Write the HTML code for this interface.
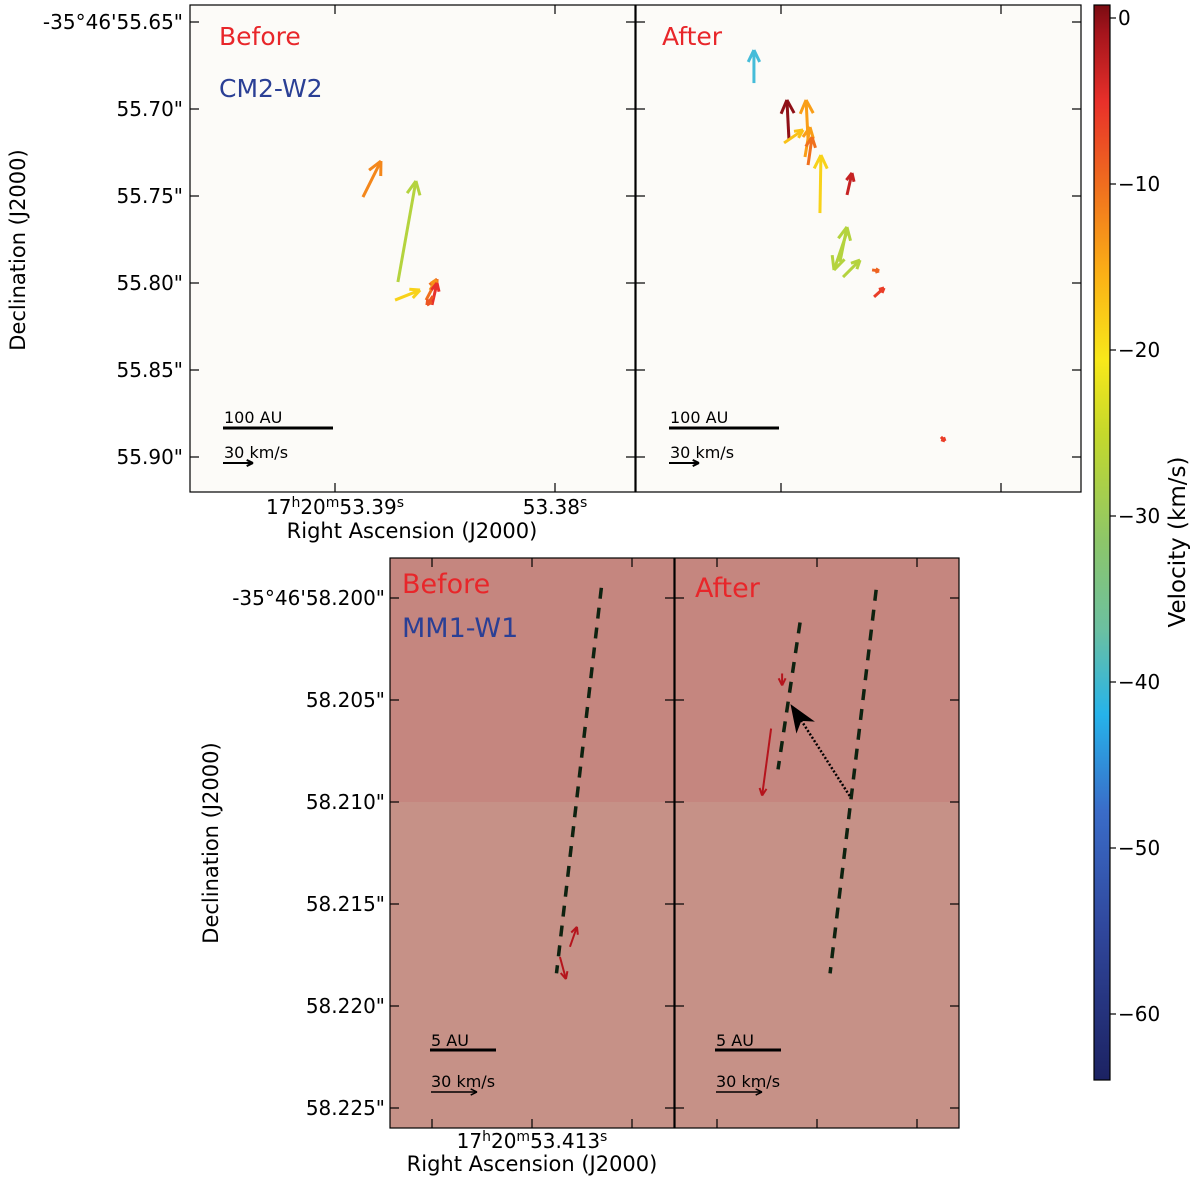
<!DOCTYPE html>
<html><head><meta charset="utf-8"><style>
body{margin:0;background:#fff;}
svg{display:block;font-family:"DejaVu Sans","Liberation Sans",sans-serif;}
</style></head><body>
<svg id="fig" width="1200" height="1184" viewBox="0 0 1200 1184">
<defs>
<linearGradient id="cb" x1="0" y1="1" x2="0" y2="0">
<stop offset="0" stop-color="#1c2262"/><stop offset="0.14" stop-color="#30479c"/><stop offset="0.25" stop-color="#3a6cc8"/>
<stop offset="0.34" stop-color="#26b3ea"/><stop offset="0.42" stop-color="#6cc0a0"/><stop offset="0.5" stop-color="#8cc66a"/>
<stop offset="0.6" stop-color="#c4d82c"/><stop offset="0.67" stop-color="#f8e81a"/><stop offset="0.75" stop-color="#fbb016"/>
<stop offset="0.83" stop-color="#f0701e"/><stop offset="0.91" stop-color="#e8302a"/><stop offset="0.975" stop-color="#a3141c"/><stop offset="1" stop-color="#7a0c12"/>
</linearGradient>
</defs>
<g id="layer"></g>
</svg>
<script>
// ---- data ----
const topDecTicks=[55.65,55.70,55.75,55.80,55.85,55.90];
const topDecLabels=['-35°46\'55.65"','55.70"','55.75"','55.80"','55.85"','55.90"'];
const topRaTicks=[53.39,53.38];
const botDecTicks=[58.200,58.205,58.210,58.215,58.220,58.225];
const botDecLabels=['-35°46\'58.200"','58.205"','58.210"','58.215"','58.220"','58.225"'];
const cbTicks=[0,-10,-20,-30,-40,-50,-60];
// arrows: ra (s), dec (arcsec), vx, vy (km/s), velocity
const beforeRa=[53.38873,53.38714,53.38727,53.38586,53.38568,53.38559,53.38555];
const beforeDec=[55.7506,55.7994,55.8098,55.8098,55.8040,55.8126,55.8075];
const beforeVx=[18,18,25,11,6,5,-6];
const beforeVy=[36,101,10,21,10,22,-9];
const beforeVel=[-12,-27,-20,-10,-13,-5,-8];
const afterRa=[53.39123,53.38964,53.38877,53.38986,53.38891,53.38877,53.38823,53.38700,53.38718,53.38586,53.38732,53.38700,53.38577,53.38273];
const afterDec=[55.6851,55.7172,55.7178,55.7195,55.7276,55.7322,55.7598,55.7494,55.7966,55.7925,55.7879,55.7707,55.8080,55.8885];
const afterVx=[0,-2,-2,19,5,4,1,5,17,7,7,-13,10,4];
const afterVy=[33,39,40,13,30,28,58,22,17,-1,35,-38,9,-4];
const afterVel=[-40,0,-14,-18,-14,-10,-20,-3,-27,-9,-27,-27,-6,-6];
// bottom: ra offset (mas), dec (arcsec)
const bDashLeftRa=[3.4,1.2];const bDashLeftDec=[58.1995,58.2184];
const bDashRightRa=[2.9,0.64];const bDashRightDec=[58.1996,58.2184];
const bDashShortRa=[-0.83,-1.91];const bDashShortDec=[58.2012,58.2084];
const bArrowLeftRa=[1.86,1.37];const bArrowLeftDec=[58.2171,58.2176];
const bArrowLeftVx=[7,6];const bArrowLeftVy=[20,-22];
const bArrowRightRa=[-1.71,-2.25];const bArrowRightDec=[58.2037,58.2064];
const bArrowRightVx=[0,-9];const bArrowRightVy=[-12,-67];
const bMoveRa=[1.6,-1.3];const bMoveDec=[58.2097,58.2052];

// ---- helpers ----
const NS='http://www.w3.org/2000/svg';
const L=document.getElementById('layer');
function mk(tag,attrs,parent){const e=document.createElementNS(NS,tag);for(const k in attrs)e.setAttribute(k,attrs[k]);(parent||L).appendChild(e);return e;}
const cbStops=[[-64,[28,34,98]],[-55,[48,71,156]],[-48,[58,108,200]],[-42,[38,179,234]],[-38,[100,196,200]],[-32,[140,198,106]],[-25,[196,216,44]],[-20,[248,210,26]],[-15,[251,170,22]],[-10,[240,112,30]],[-5,[232,48,42]],[-1,[163,20,28]],[1,[122,12,18]]];
function vcol(v){for(let i=0;i<cbStops.length-1;i++){const a=cbStops[i],b=cbStops[i+1];if(v>=a[0]&&v<=b[0]){const t=(v-a[0])/(b[0]-a[0]);const c=a[1].map((x,j)=>Math.round(x+(b[1][j]-x)*t));return `rgb(${c})`;}}return v<-64?'rgb(28,34,98)':'rgb(122,12,18)';}
function arrow(x1,y1,x2,y2,col,w,hl,name){
  const g=mk('g',{});
  
  
  mk('line',{x1:x1,y1:y1,x2:x2,y2:y2,stroke:col,'stroke-width':w,'stroke-linecap':'butt'},g);
  const a=Math.atan2(y2-y1,x2-x1);
  for(const s of [-1,1]){const b=a+Math.PI+s*0.45;mk('line',{x1:x2,y1:y2,x2:x2+hl*Math.cos(b),y2:y2+hl*Math.sin(b),stroke:col,'stroke-width':w},g);}
}
function text(x,y,s,attrs,name){const t=mk('text',Object.assign({x:x,y:y},attrs));t.textContent=s;return t;}

// ---- top panels ----
const topY=d=>22+(d-55.65)*1740;
const topXL=ra=>335+(53.39-ra)*22000;
const topXR=ra=>781+(53.39-ra)*22000;
const panels=[[190,'top-left-panel'],[636,'top-right-panel']];
for(const [px,nm] of panels){
  const r=mk('rect',{x:px,y:5,width:445,height:487,fill:'#fcfbf8',stroke:'#000','stroke-width':1.2});
  
  topDecTicks.forEach(d=>{const y=topY(d);mk('line',{x1:px,x2:px+9,y1:y,y2:y,stroke:'#000','stroke-width':1.2});mk('line',{x1:px+445,x2:px+436,y1:y,y2:y,stroke:'#000','stroke-width':1.2});});
  topRaTicks.forEach(ra=>{const x=(px===190?topXL:topXR)(ra);mk('line',{x1:x,x2:x,y1:492,y2:483,stroke:'#000','stroke-width':1.2});mk('line',{x1:x,x2:x,y1:5,y2:14,stroke:'#000','stroke-width':1.2});});
  mk('line',{x1:px+33,x2:px+143,y1:428,y2:428,stroke:'#000','stroke-width':3});
  text(px+34,423,'100 AU',{'font-size':16},'scale-bar-label');
  text(px+34,458,'30 km/s',{'font-size':16},'velocity-key-label');
  arrow(px+33,463,px+63,463,'#000',2,7,'velocity-key-arrow');
}
topDecLabels.forEach((s,i)=>text(183,topY(topDecTicks[i])+7,s,{'font-size':20,'text-anchor':'end'},'dec-tick-label'));
const tl=mk('text',{x:335,y:514,'font-size':20,'text-anchor':'middle'});tl.innerHTML='17<tspan dy="-7" font-size="14">h</tspan><tspan dy="7">20</tspan><tspan dy="-7" font-size="14">m</tspan><tspan dy="7">53.39</tspan><tspan dy="-7" font-size="14">s</tspan>';

const tl2=mk('text',{x:555,y:514,'font-size':20,'text-anchor':'middle'});tl2.innerHTML='53.38<tspan dy="-7" font-size="14">s</tspan>';

text(412,538,'Right Ascension (J2000)',{'font-size':21,'text-anchor':'middle'},'x-axis-title');
text(25,250,'Declination (J2000)',{'font-size':21,'text-anchor':'middle',transform:'rotate(-90 25 250)'},'y-axis-title');
text(219,45,'Before',{'font-size':25,fill:'#e8262a'},'before-label');
text(219,97,'CM2-W2',{'font-size':25,fill:'#2a3f95'},'source-label');
text(662,45,'After',{'font-size':25,fill:'#e8262a'},'after-label');
beforeRa.forEach((ra,i)=>{const x=topXL(ra),y=topY(beforeDec[i]);arrow(x,y,x+beforeVx[i],y-beforeVy[i],vcol(beforeVel[i]),3,Math.min(15,Math.max(6,Math.hypot(beforeVx[i],beforeVy[i])*0.4)),'maser-arrow');});
afterRa.forEach((ra,i)=>{const x=topXR(ra),y=topY(afterDec[i]);arrow(x,y,x+afterVx[i],y-afterVy[i],vcol(afterVel[i]),3,Math.min(15,Math.max(4,Math.hypot(afterVx[i],afterVy[i])*0.4)),'maser-arrow');});

// ---- colorbar ----
const cbY=v=>18-v*16.6;
const cbr=mk('rect',{x:1094,y:5,width:16,height:1075,fill:'url(#cb)',stroke:'#000','stroke-width':1.2});

cbTicks.forEach(v=>{const y=cbY(v);mk('line',{x1:1110,x2:1116,y1:y,y2:y,stroke:'#000','stroke-width':1.2});text(1118,y+7,v===0?'0':'\u2212'+(-v),{'font-size':20},'colorbar-tick-label');});
text(1185,542,'Velocity (km/s)',{'font-size':23,'text-anchor':'middle',transform:'rotate(-90 1185 542)'},'colorbar-title');

// ---- bottom panels ----
const botY=d=>598+(d-58.200)*20400;
const bxL=m=>532+m*20.4;
const bxR=m=>817+m*20.4;
[[390,'bottom-left-panel'],[675,'bottom-right-panel']].forEach(([px,nm])=>{
  const g=mk('g',{});
  mk('rect',{x:px,y:558,width:284,height:244,fill:'#c5867f'},g);
  mk('rect',{x:px,y:802,width:284,height:326,fill:'#c69187'},g);
  mk('rect',{x:px,y:558,width:284,height:570,fill:'none',stroke:'#000','stroke-width':1.2},g);
  botDecTicks.forEach(d=>{const y=botY(d);mk('line',{x1:px,x2:px+9,y1:y,y2:y,stroke:'#000','stroke-width':1.2});mk('line',{x1:px+284,x2:px+275,y1:y,y2:y,stroke:'#000','stroke-width':1.2});});
  [px+42,px+142,px+242].forEach(x=>{mk('line',{x1:x,x2:x,y1:1128,y2:1119,stroke:'#000','stroke-width':1.2});mk('line',{x1:x,x2:x,y1:558,y2:567,stroke:'#000','stroke-width':1.2});});
  mk('line',{x1:px+40,x2:px+106,y1:1050,y2:1050,stroke:'#000','stroke-width':3});
  text(px+41,1046,'5 AU',{'font-size':16},'scale-bar-label');
  text(px+41,1087,'30 km/s',{'font-size':16},'velocity-key-label');
  arrow(px+41,1092,px+87,1092,'#000',1.5,7,'velocity-key-arrow');
});
botDecLabels.forEach((s,i)=>text(385,botY(botDecTicks[i])+7,s,{'font-size':20,'text-anchor':'end'},'dec-tick-label'));
const tb=mk('text',{x:532,y:1148,'font-size':20,'text-anchor':'middle'});tb.innerHTML='17<tspan dy="-7" font-size="14">h</tspan><tspan dy="7">20</tspan><tspan dy="-7" font-size="14">m</tspan><tspan dy="7">53.413</tspan><tspan dy="-7" font-size="14">s</tspan>';

text(532,1171,'Right Ascension (J2000)',{'font-size':21,'text-anchor':'middle'},'x-axis-title');
text(218,843,'Declination (J2000)',{'font-size':21,'text-anchor':'middle',transform:'rotate(-90 218 843)'},'y-axis-title');
text(402,593,'Before',{'font-size':27,fill:'#e8262a'},'before-label');
text(402,637,'MM1-W1',{'font-size':27,fill:'#2a3f95'},'source-label');
text(695,597,'After',{'font-size':27,fill:'#e8262a'},'after-label');
function dash(xf,ra,dec,name){const l=mk('line',{x1:xf(ra[0]),y1:botY(dec[0]),x2:xf(ra[1]),y2:botY(dec[1]),stroke:'#0e2210','stroke-width':3.5,'stroke-dasharray':'11 9'});}
dash(bxL,bDashLeftRa,bDashLeftDec,'ring-line-before');
dash(bxR,bDashRightRa,bDashRightDec,'ring-line-after');
dash(bxR,bDashShortRa,bDashShortDec,'ring-line-shifted');
bArrowLeftRa.forEach((m,i)=>{const x=bxL(m),y=botY(bArrowLeftDec[i]);arrow(x,y,x+bArrowLeftVx[i],y-bArrowLeftVy[i],'#b5141c',2,8,'maser-arrow');});
bArrowRightRa.forEach((m,i)=>{const x=bxR(m),y=botY(bArrowRightDec[i]);arrow(x,y,x+bArrowRightVx[i],y-bArrowRightVy[i],'#b5141c',2,8,'maser-arrow');});
const mx1=bxR(bMoveRa[0]),my1=botY(bMoveDec[0]),mx2=bxR(bMoveRa[1]),my2=botY(bMoveDec[1]);
const ml=mk('line',{x1:mx1,y1:my1,x2:mx2+8,y2:my2+12,stroke:'#000','stroke-width':2.5,'stroke-dasharray':'2 2'});

const ang=Math.atan2(my2-my1,mx2-mx1);
const hx=mx2,hy=my2;
const p1=[hx-28*Math.cos(ang)+11*Math.sin(ang),hy-28*Math.sin(ang)-11*Math.cos(ang)],p2=[hx-28*Math.cos(ang)-11*Math.sin(ang),hy-28*Math.sin(ang)+11*Math.cos(ang)],p3=[hx-20*Math.cos(ang),hy-20*Math.sin(ang)];
const ph=mk('polygon',{points:`${hx},${hy} ${p1} ${p3} ${p2}`,fill:'#000'});

</script>
</body></html>
